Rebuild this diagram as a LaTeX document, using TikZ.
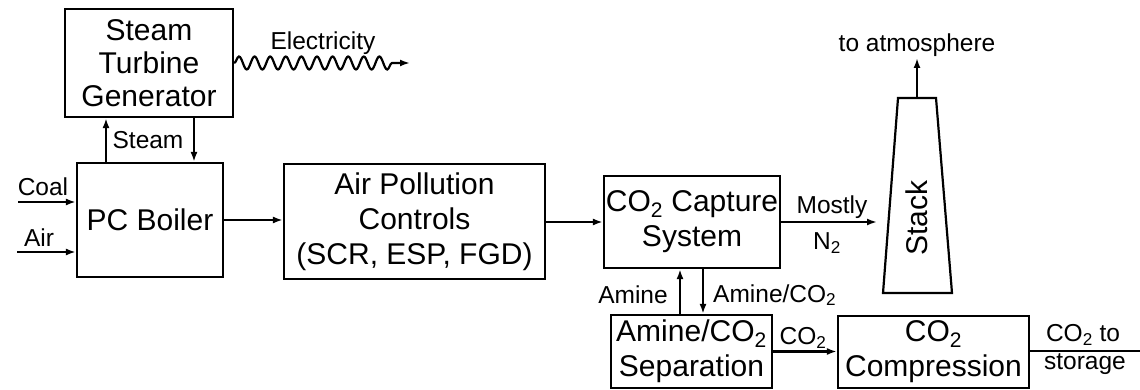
\documentclass[tikz,border=0pt]{standalone}
\usepackage{fontspec}
\setmainfont{Liberation Sans}
\usetikzlibrary{arrows.meta,decorations.pathmorphing}
\begin{document}
\begin{tikzpicture}[x=1pt,y=-1pt,
  box/.style={draw, line width=2.2pt, inner sep=0pt, align=center,
    font=\fontsize{30}{35}\selectfont},
  lbl/.style={inner sep=0pt, align=center, font=\fontsize{24.5}{29}\selectfont},
  flow/.style={line width=2.2pt, -{Latex[length=10pt,width=7pt]}},
  plainline/.style={line width=2.2pt}]
\useasboundingbox (0,0) rectangle (1140,390);
% boxes
\node[box, minimum width=168pt, minimum height=108pt, font=\fontsize{30}{33}\selectfont] (stg) at (149,63) {Steam\\Turbine\\Generator};
\node[box, minimum width=146pt, minimum height=114pt] (boiler) at (150,220) {PC Boiler};
\node[box, minimum width=261pt, minimum height=115pt] (apc) at (414.5,221.5) {Air Pollution\\Controls\\(SCR, ESP, FGD)};
\node[box, minimum width=176pt, minimum height=92pt] (cap) at (692,222) {CO\textsubscript{2} Capture\\System};
\node[box, minimum width=161pt, minimum height=73pt] (sep) at (691.5,351.5) {Amine/CO\textsubscript{2}\\Separation};
\node[box, minimum width=191pt, minimum height=72pt] (comp) at (933.5,352) {CO\textsubscript{2}\\Compression};
% stack
\coordinate (stl) at (898,98);
\coordinate (str) at (936,98);
\coordinate (sbr) at (952,293);
\coordinate (sbl) at (883,293);
\draw[line width=2.2pt, line join=miter] (stl) -- (str) -- (sbr) -- (sbl) -- cycle;
\node[box, draw=none, rotate=90] (stack) at (917,218) {Stack};
\coordinate (stacktop) at (917,98);
\coordinate (atm) at (917,58);
\coordinate (stackin) at (877,222);
% free ends
\coordinate (coalin) at (18,202);
\coordinate (airin) at (17,252);
\coordinate (elecend) at (410,63);
\coordinate (storend) at (1140,351);
% connectors
\draw[flow] (coalin) -- (coalin -| boiler.west);
\draw[flow] (airin) -- (airin -| boiler.west);
\draw[flow] (boiler.north -| 106,0) -- (stg.south -| 106,0);
\draw[flow] (stg.south -| 194,0) -- (boiler.north -| 194,0);
\draw[flow] (boiler.east) -- (boiler.east -| apc.west);
\draw[flow] (apc.east |- 0,222) -- (cap.west |- 0,222);
\draw[flow] (cap.east) -- (stackin);
\draw[flow] (stacktop) -- (atm);
\draw[flow] (sep.north -| 680,0) -- (cap.south -| 680,0);
\draw[flow] (cap.south -| 703,0) -- (sep.north -| 703,0);
\draw[flow] (sep.east) -- (sep.east -| comp.west);
\draw[plainline] (comp.east |- storend) -- (storend);
\draw[line width=2.2pt, -{Latex[length=10pt,width=7pt]}, decorate,
  decoration={snake, segment length=15.6pt, amplitude=6.5pt, post length=17pt}]
  (stg.east |- elecend) -- (elecend);
% labels
\node[lbl] (lcoal) at (43,187) {Coal};
\node[lbl] (lair) at (39,238) {Air};
\node[lbl] (lsteam) at (148,140) {Steam};
\node[lbl] (lelec) at (323,43) {Electricity};
\node[lbl] (lmostly) at (832,207) {Mostly};
\node[lbl] (ln2) at (827,243) {N\textsubscript{2}};
\node[lbl] (latm) at (917,45) {to atmosphere};
\node[lbl] (lamine) at (633,295) {Amine};
\node[lbl, anchor=west] (laco2) at (713,295) {Amine/CO\textsubscript{2}};
\node[lbl] (lco2) at (803,338) {CO\textsubscript{2}};
\node[lbl] (lto) at (1083,335) {CO\textsubscript{2} to};
\node[lbl] (lstor) at (1085,364) {storage};
\end{tikzpicture}
\end{document}
